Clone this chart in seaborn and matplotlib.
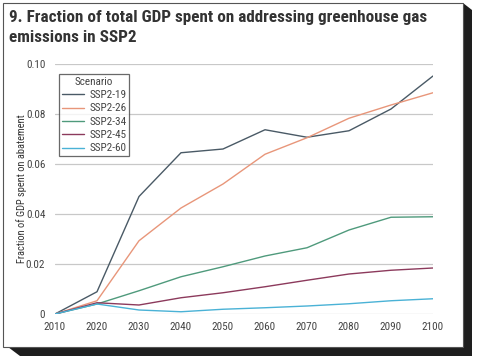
import matplotlib
matplotlib.use("Agg")
import matplotlib.pyplot as plt
from matplotlib.patches import Polygon, Rectangle
from matplotlib import font_manager
import seaborn as sns
import pandas as pd

years = [2010, 2020, 2030, 2040, 2050, 2060, 2070, 2080, 2090, 2100]
ssp2_19 = [0.0, 0.0089, 0.047, 0.0645, 0.066, 0.0737, 0.0707, 0.0733, 0.082, 0.0952]
ssp2_26 = [0.0, 0.0053, 0.0293, 0.0424, 0.052, 0.0639, 0.0705, 0.0783, 0.0836, 0.0885]
ssp2_34 = [0.0, 0.0040, 0.0093, 0.0149, 0.0189, 0.0232, 0.0265, 0.0336, 0.0387, 0.0389]
ssp2_45 = [0.0, 0.0045, 0.0036, 0.0065, 0.0085, 0.0109, 0.0135, 0.0160, 0.0175, 0.0184]
ssp2_60 = [0.0, 0.0040, 0.0016, 0.0009, 0.0019, 0.0025, 0.0032, 0.0041, 0.0053, 0.0061]
scenarios = ["SSP2-19", "SSP2-26", "SSP2-34", "SSP2-45", "SSP2-60"]
yticks = [0, 0.02, 0.04, 0.06, 0.08, 0.10]
ytick_labels = ["0", "0.02", "0.04", "0.06", "0.08", "0.10"]
title = "9. Fraction of total GDP spent on addressing greenhouse gas\nemissions in SSP2"
ylabel = "Fraction of GDP spent on abatement"

series = [ssp2_19, ssp2_26, ssp2_34, ssp2_45, ssp2_60]
rows = []
for name, vals in zip(scenarios, series):
    for y, v in zip(years, vals):
        rows.append({"Year": y, "Value": v, "Scenario": name})
df = pd.DataFrame(rows)

palette = {"SSP2-19": "#4a5a66", "SSP2-26": "#e8967a", "SSP2-34": "#4f9a7c",
           "SSP2-45": "#8c3a5c", "SSP2-60": "#4ab2d6"}

sns.set_theme(style="white")
names = {f.name for f in font_manager.fontManager.ttflist}
narrow_name = None
for cand in ["Liberation Sans Narrow", "DejaVu Sans Condensed", "Roboto Condensed"]:
    if cand in names:
        narrow_name = cand
        break
stretch = "condensed"
fam = [narrow_name, "DejaVu Sans"] if narrow_name else ["DejaVu Sans"]
plt.rcParams["font.family"] = fam
plt.rcParams["font.stretch"] = stretch

W, H = 480, 362
fig = plt.figure(figsize=(W / 100, H / 100), dpi=100)
fig.patch.set_facecolor("white")

def fx(px):
    return px / W

def fy(py):
    return 1 - py / H

# shadow
fig.patches.append(Polygon([(fx(463), fy(3)), (fx(472), fy(10)), (fx(472), fy(356)),
                            (fx(20), fy(356)), (fx(8), fy(347)), (fx(463), fy(347))],
                           closed=True, transform=fig.transFigure, facecolor="#1e1e1e",
                           edgecolor="none", zorder=0))
# card
fig.patches.append(Rectangle((fx(3), fy(347)), fx(463) - fx(3), fy(3) - fy(347),
                             transform=fig.transFigure, facecolor="white",
                             edgecolor="#555555", linewidth=0.8, zorder=1))

fig.text(fx(9), fy(10), title, ha="left", va="top", fontsize=12.3,
         fontweight="bold", color="#333333", linespacing=1.4,
         family=fam, fontstretch=stretch)

ax = fig.add_axes([fx(55), fy(314), fx(433) - fx(55), fy(64) - fy(314)])
ax.set_facecolor("none")
ax.set_zorder(2)

sns.lineplot(data=df, x="Year", y="Value", hue="Scenario", hue_order=scenarios,
             palette=palette, linewidth=1.0, ax=ax)

ax.set_xlim(2010, 2100)
ax.set_ylim(0, 0.10)
ax.set_xticks(years)
ax.set_xticklabels([str(y) for y in years])
ax.set_yticks(yticks)
ax.set_yticklabels(ytick_labels)
ax.grid(axis="y", color="#c8c8c8", linewidth=0.9)
ax.set_axisbelow(True)
for s in ax.spines.values():
    s.set_visible(False)
ax.tick_params(axis="both", length=0, labelsize=8, colors="#444444")
ax.tick_params(axis="x", pad=6)
ax.tick_params(axis="y", pad=7)
ax.set_xlabel("")
ax.set_ylabel(ylabel, fontsize=7.5, color="#333333")
ax.yaxis.set_label_coords(-0.074, 0.5)

leg = ax.legend(title="Scenario", loc="upper left", bbox_to_anchor=(0.01, 0.96),
                frameon=True, fancybox=False, fontsize=8, title_fontsize=8,
                handlelength=2.0, borderpad=0.25, labelspacing=0.3, handletextpad=0.5,
                borderaxespad=0.0)
leg.get_frame().set_edgecolor("#444444")
leg.get_frame().set_linewidth(0.9)
for t in leg.get_texts():
    t.set_color("#444444")
leg.get_title().set_color("#444444")

fig.savefig("out.png", dpi=100, facecolor="white")
